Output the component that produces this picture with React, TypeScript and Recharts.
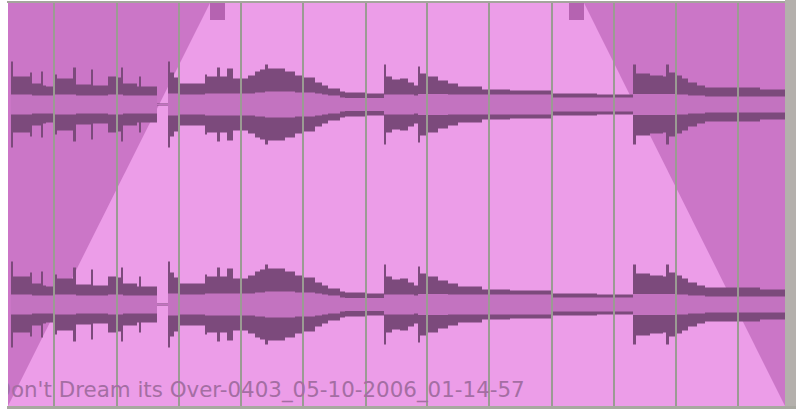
import { ComposedChart, Area, XAxis, YAxis, ReferenceLine, ReferenceArea } from "recharts";

// clip is 777 columns wide, each channel is 100 units from centre to edge
const CLIP_LEN = 777;
const TOP = 2.015;
const clipTitle = "Don't Dream its Over-0403_05-10-2006_01-14-57";

// bar lines, in clip columns
const barLines = [46, 109, 171, 233, 295, 358, 419, 481, 544, 606, 668, 730];

// fade envelopes
const fadeInPts = [0, 202];
const fadeInGain = [0, 1];
const fadeOutPts = [576, 777];
const fadeOutGain = [1, 0];

// waveform overview: column, peak and rms level (hundredths of full scale)
const waveX = [
  3, 5, 22, 24, 33, 35, 38, 45, 49, 65, 68, 83, 85, 100, 110, 113, 115, 129, 131, 133,
  149, 160, 162, 166, 170, 197, 199, 209, 212, 219, 225, 240, 247, 252, 257, 260, 277, 287, 295,
  307, 314, 320, 332, 337, 359, 376, 378, 384, 392, 400, 406, 410, 412, 420, 430, 440, 450,
  474, 502, 544, 589, 625, 628, 642, 655, 658, 661, 668, 674, 680, 689, 697, 752, 777,
];
const wavePeak = [
  43, 28, 32, 21, 33, 19, 18, 30, 26, 37, 20, 35, 19, 28, 27, 37, 21, 18, 28, 18,
  1, 43, 32, 27, 21, 30, 28, 37, 28, 36, 26, 29, 33, 35, 40, 36, 33, 29, 27,
  22, 19, 16, 13, 12, 11, 40, 28, 25, 26, 22, 19, 38, 31, 28, 24, 21, 18,
  15, 14, 11, 10, 40, 31, 29, 28, 40, 32, 29, 26, 22, 19, 17, 15, 14,
];
const waveRms = [
  10, 10, 10, 9, 9, 9, 9, 10, 10, 10, 9, 9, 9, 10, 10, 10, 9, 9, 9, 9,
  0.5, 11, 11, 11, 10, 11, 11, 11, 11, 11, 11, 11, 12, 12, 13, 13, 13, 12, 12,
  11, 10, 9, 7, 6.5, 6.5, 10, 10, 10, 10, 10, 9, 10.5, 10.5, 10.5, 10.5, 10, 10,
  10, 10, 7, 7, 10.5, 10.5, 10.5, 10.5, 10.5, 10.5, 10, 10, 9, 9, 8, 8, 8,
];

const wave = waveX.map((x, i) => ({ x, peak: wavePeak[i] / 100, rms: waveRms[i] / 100 }));
const fadeIn = fadeInPts.map((x, i) => ({ x, lo: -TOP + fadeInGain[i] * 2 * TOP }));
const fadeOut = fadeOutPts.map((x, i) => ({ x, lo: -TOP + fadeOutGain[i] * 2 * TOP }));

const BG = "#EC9DE8";
const FADE = "#CB76C7";
const PEAK = "#7C4A7C";
const RMS = "#C373C0";
const GRID = "#9B9B93";
const HANDLE = "#B563B1";

const channels = [1, -1];

export default function App() {
  return (
    <div style={{ position: "absolute", left: 0, top: 0, width: 796, height: 409, background: "#fff" }}>
      <div style={{ position: "absolute", left: 785, top: 0, width: 11, height: 409, background: "#B4B0AC" }} />
      <div style={{ position: "absolute", left: 7, top: 1, width: 778, height: 2, background: "#A4A49C" }} />
      <div style={{ position: "absolute", left: 7, top: 406, width: 789, height: 3, background: "#A8A8A0" }} />
      <ComposedChart
        width={796}
        height={409}
        margin={{ top: 3, right: 11, bottom: 3, left: 8 }}
        style={{ position: "absolute", left: 0, top: 0 }}
      >
        <ReferenceArea x1={0} x2={CLIP_LEN} y1={-TOP} y2={TOP} fill={BG} fillOpacity={1} stroke="none" />
        <XAxis type="number" dataKey="x" domain={[0, CLIP_LEN]} allowDataOverflow hide />
        <YAxis type="number" domain={[-TOP, TOP]} allowDataOverflow hide />
        <Area
          data={fadeIn}
          dataKey={(d: any) => [d.lo, TOP]}
          type="linear"
          stroke="none"
          fill={FADE}
          fillOpacity={1}
          isAnimationActive={false}
          dot={false}
          activeDot={false}
        />
        <Area
          data={fadeOut}
          dataKey={(d: any) => [d.lo, TOP]}
          type="linear"
          stroke="none"
          fill={FADE}
          fillOpacity={1}
          isAnimationActive={false}
          dot={false}
          activeDot={false}
        />
        {channels.map((c) => (
          <Area
            key={"p" + c}
            data={wave}
            dataKey={(d: any) => [c - d.peak, c + d.peak]}
            type="stepAfter"
            stroke="none"
            fill={PEAK}
            fillOpacity={1}
            isAnimationActive={false}
            dot={false}
            activeDot={false}
          />
        ))}
        {channels.map((c) => (
          <Area
            key={"r" + c}
            data={wave}
            dataKey={(d: any) => [c - d.rms, c + d.rms]}
            type="stepAfter"
            stroke="none"
            fill={RMS}
            fillOpacity={1}
            isAnimationActive={false}
            dot={false}
            activeDot={false}
          />
        ))}
        {barLines.map((b) => (
          <ReferenceLine key={b} x={b} stroke={GRID} strokeWidth={2} />
        ))}
        <ReferenceArea
          x1={fadeInPts[1]}
          x2={fadeInPts[1] + 15}
          y1={TOP - 0.17}
          y2={TOP}
          fill={HANDLE}
          fillOpacity={1}
          stroke="none"
        />
        <ReferenceArea
          x1={fadeOutPts[0] - 15}
          x2={fadeOutPts[0]}
          y1={TOP - 0.17}
          y2={TOP}
          fill={HANDLE}
          fillOpacity={1}
          stroke="none"
        />
      </ComposedChart>
      <div
        style={{
          position: "absolute",
          left: 8,
          top: 3,
          width: CLIP_LEN,
          height: 403,
          overflow: "hidden",
          pointerEvents: "none",
        }}
      >
        <div
          style={{
            position: "absolute",
            left: -13.5,
            top: 376,
            fontFamily: "'DejaVu Sans', sans-serif",
            fontSize: 21.4,
            lineHeight: 1,
            whiteSpace: "nowrap",
            color: "#A46EA3",
          }}
        >
          {clipTitle}
        </div>
      </div>
    </div>
  );
}
